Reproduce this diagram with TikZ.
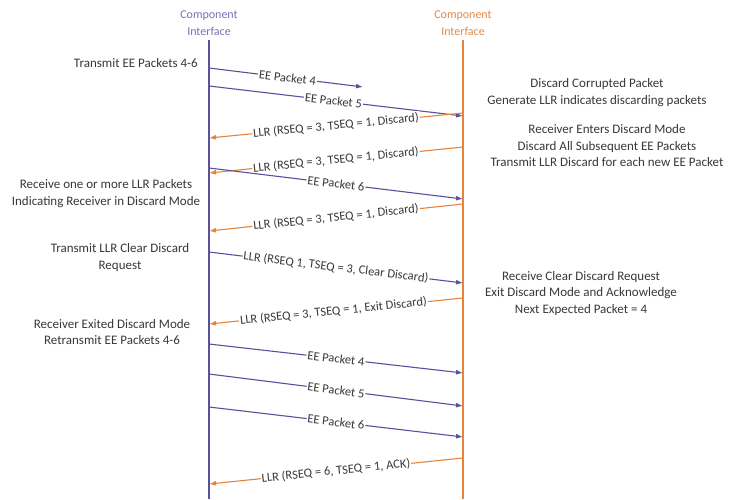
\documentclass[tikz,border=0pt]{standalone}
\usepackage{fontspec}
\setmainfont{Carlito}
\usetikzlibrary{arrows.meta}
\definecolor{pur}{HTML}{5B509C}
\definecolor{org}{HTML}{E8843A}
\definecolor{hpur}{HTML}{7B70B8}
\definecolor{horg}{HTML}{E38A45}
\definecolor{txt}{HTML}{383838}
\tikzset{
  lifeL/.style={draw=pur, line width=1.3pt},
  lifeR/.style={draw=org, line width=1.3pt},
  hdr/.style={align=center, font=\fontsize{12}{17}\selectfont, inner sep=0pt},
  note/.style={align=center, text=txt, font=\fontsize{13}{16.5}\selectfont, inner sep=0pt},
  purarrow/.style={draw=pur, line width=1.1pt, -{Latex[length=7pt,width=5pt]}},
  orgarrow/.style={draw=org, line width=1.1pt, -{Latex[length=7pt,width=5pt]}},
  lab/.style={sloped, fill=white, inner sep=1pt, text=txt, font=\fontsize{12.5}{14}\selectfont, pos=0.5}
}
\begin{document}
\begin{tikzpicture}[x=1pt,y=-1pt]
\useasboundingbox[fill=white] (0,0) rectangle (731,499);
% headers
\node[hdr, text=hpur] (hl) at (209,23.5) {Component\\Interface};
\node[hdr, text=horg] (hr) at (463,23.5) {Component\\Interface};
% lifelines
\coordinate (lt) at (209,40);
\coordinate (lb) at (209,499);
\coordinate (rt) at (463,40);
\coordinate (rb) at (463,499);
\draw[lifeL] (lt) -- (lb);
\draw[lifeR] (rt) -- (rb);
% endpoints
\coordinate (a1s) at (209,68);  \coordinate (a1e) at (363,87);
\coordinate (a2s) at (209,86);  \coordinate (a2e) at (463,116);
\coordinate (a3s) at (463,113); \coordinate (a3e) at (209,138);
\coordinate (a4s) at (463,147); \coordinate (a4e) at (209,173);
\coordinate (a5s) at (209,168); \coordinate (a5e) at (463,199);
\coordinate (a6s) at (463,204); \coordinate (a6e) at (209,231);
\coordinate (a7s) at (209,252); \coordinate (a7e) at (463,283);
\coordinate (a8s) at (463,298); \coordinate (a8e) at (209,324);
\coordinate (a9s) at (209,344); \coordinate (a9e) at (463,373);
\coordinate (a10s) at (209,374); \coordinate (a10e) at (463,406);
\coordinate (a11s) at (209,407); \coordinate (a11e) at (463,437);
\coordinate (a12s) at (463,458); \coordinate (a12e) at (209,484);
% messages
\draw[purarrow] (a1s) -- node[lab,pos=0.51] {EE Packet 4} (a1e);
\draw[purarrow] (a2s) -- node[lab,pos=0.49] {EE Packet 5} (a2e);
\draw[orgarrow] (a3s) -- node[lab] {LLR (RSEQ = 3, TSEQ = 1, Discard)} (a3e);
\draw[orgarrow] (a4s) -- node[lab] {LLR (RSEQ = 3, TSEQ = 1, Discard)} (a4e);
\draw[purarrow] (a5s) -- node[lab] {EE Packet 6} (a5e);
\draw[orgarrow] (a6s) -- node[lab] {LLR (RSEQ = 3, TSEQ = 1, Discard)} (a6e);
\draw[purarrow] (a7s) -- node[lab] {LLR (RSEQ 1, TSEQ = 3, Clear Discard)} (a7e);
\draw[orgarrow] (a8s) -- node[lab,pos=0.51] {LLR (RSEQ = 3, TSEQ = 1, Exit Discard)} (a8e);
\draw[purarrow] (a9s) -- node[lab] {EE Packet 4} (a9e);
\draw[purarrow] (a10s) -- node[lab] {EE Packet 5} (a10e);
\draw[purarrow] (a11s) -- node[lab] {EE Packet 6} (a11e);
\draw[orgarrow] (a12s) -- node[lab] {LLR (RSEQ = 6, TSEQ = 1, ACK)} (a12e);
% left notes
\node[note, anchor=east] (n1) at (198,63) {Transmit EE Packets 4-6};
\node[note] (n2) at (106,193.5) {Receive one or more LLR Packets\\Indicating Receiver in Discard Mode};
\node[note] (n3) at (120,257.5) {Transmit LLR Clear Discard\\Request};
\node[note] (n4) at (112,332) {Receiver Exited Discard Mode\\Retransmit EE Packets 4-6};
% right notes
\node[note] (n5) at (597,92.5) {Discard Corrupted Packet\\Generate LLR indicates discarding packets};
\node[note] (n6) at (607,146) {Receiver Enters Discard Mode\\Discard All Subsequent EE Packets\\Transmit LLR Discard for each new EE Packet};
\node[note] (n7) at (581,293.5) {Receive Clear Discard Request\\Exit Discard Mode and Acknowledge\\Next Expected Packet = 4};
\end{tikzpicture}
\end{document}
